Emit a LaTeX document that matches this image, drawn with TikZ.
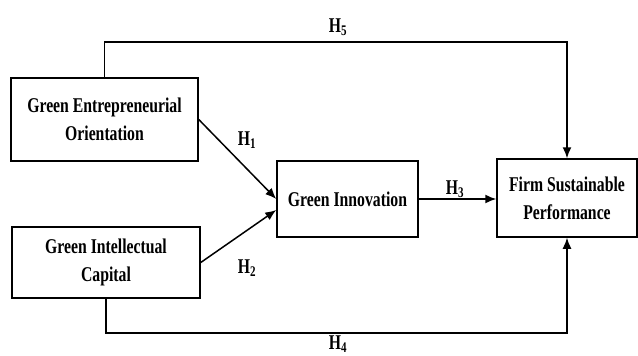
\documentclass[tikz,border=0pt]{standalone}
\usepackage{fontspec}
\newfontfamily\boxfont{Liberation Serif}[FakeStretch=0.75]
\usetikzlibrary{arrows.meta}
\tikzset{
  var/.style={draw,line width=1.5pt,inner sep=0pt,align=center,
    font=\boxfont\bfseries\fontsize{21}{28}\selectfont},
  link/.style={draw,line width=1.5pt,-{Latex[length=11pt,width=9pt]}},
  hyp/.style={inner sep=1pt,font=\boxfont\bfseries\fontsize{21}{28}\selectfont}
}
\begin{document}
\begin{tikzpicture}[x=1pt,y=-1pt]
\useasboundingbox (0,0) rectangle (638,356);
\node[var,minimum width=187pt,minimum height=83pt] (geo) at (104.5,119.5) {Green Entrepreneurial\\Orientation};
\node[var,minimum width=188pt,minimum height=71pt] (gic) at (106,262.5) {Green Intellectual\\Capital};
\node[var,minimum width=141pt,minimum height=76pt] (gi) at (347.5,199) {Green Innovation};
\node[var,minimum width=140pt,minimum height=78pt] (fsp) at (567,198) {Firm Sustainable\\Performance};

\coordinate (top) at (300,42);
\coordinate (bot) at (300,333);

\path[link] (geo.east)--(gi.west);
\path[link] (gic.east)--([yshift=-11pt]gi.west);
\path[link] (gi.east)--(gi.east -| fsp.west);
\path[link] (geo.north) |- (top) -| (fsp.north);
\path[link] (gic.south) |- (bot) -| (fsp.south);

\node[hyp] (h1) at (247,140) {H\textsubscript{1}};
\node[hyp] (h2) at (247,268) {H\textsubscript{2}};
\node[hyp] (h3) at (455,189) {H\textsubscript{3}};
\node[hyp] (h4) at (338,344) {H\textsubscript{4}};
\node[hyp] (h5) at (338,27) {H\textsubscript{5}};
\end{tikzpicture}
\end{document}
